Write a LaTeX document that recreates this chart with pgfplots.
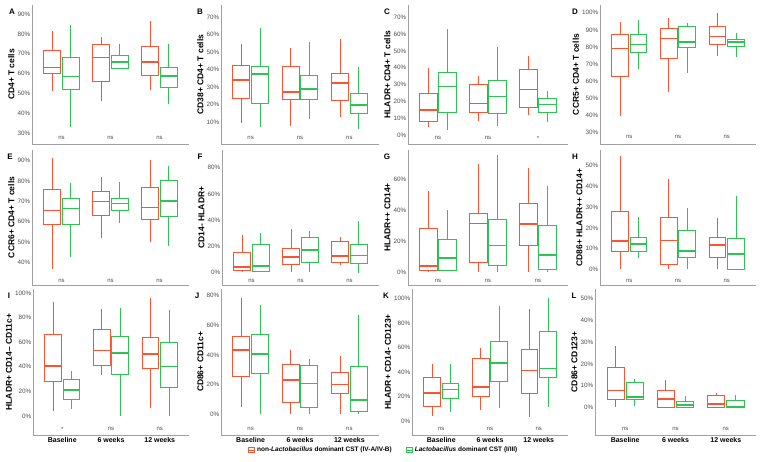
\documentclass[border=0pt]{standalone}
\usepackage{fontspec}
\setmainfont{Liberation Sans}
\usepackage{pgfplots}
\usepackage{pgfplotstable}
\pgfplotsset{compat=1.18}
\usepgfplotslibrary{statistics}

\definecolor{cRed}{RGB}{250,84,50}
\definecolor{cGreen}{RGB}{46,196,84}
\definecolor{tickgray}{RGB}{77,77,77}
\definecolor{linegray}{RGB}{160,160,160}

% rows: baseline red, baseline green, 6wk red, 6wk green, 12wk red, 12wk green
\pgfplotstableread{
lw lq med uq uw
51.2 60.3 63.0 71.7 81.5
33.2 52.0 58.5 68.2 84.5
46.2 56.0 68.2 74.8 78.5
62.5 62.5 66.0 69.0 74.7
51.7 59.3 66.0 73.8 86.3
44.8 53.3 58.7 63.2 75.0
}\tA
\pgfplotstableread{
lw lq med uq uw
9.2 23.4 34.1 42.5 54.5
7.3 20.7 37.5 41.7 63.9
7.9 23.0 27.2 41.7 52.2
11.5 23.2 28.9 36.6 55.9
12.7 22.6 32.2 38.1 57.8
6.0 15.0 19.7 26.2 41.3
}\tB
\pgfplotstableread{
lw lq med uq uw
4.9 8.3 14.8 24.8 40.0
2.9 13.3 28.7 37.3 63.3
8.5 13.3 18.8 30.3 35.1
5.5 12.9 22.8 32.5 52.1
11.9 16.2 27.1 38.7 47.0
7.5 13.5 18.2 21.6 26.0
}\tC
\pgfplotstableread{
lw lq med uq uw
39.9 62.9 79.0 87.2 94.8
67.1 76.9 81.5 87.6 95.7
53.5 73.6 85.0 90.7 96.7
65.0 79.8 82.9 92.0 94.2
74.7 81.5 86.2 92.0 99.6
74.3 80.6 82.9 84.6 87.9
}\tD
\pgfplotstableread{
lw lq med uq uw
36.9 58.8 65.5 75.9 91.1
42.9 58.5 66.6 71.4 78.9
52.3 63.2 69.9 74.8 81.8
59.6 65.7 68.9 71.5 79.4
50.3 61.2 67.0 76.8 90.3
48.0 62.4 70.2 80.2 87.2
}\tE
\pgfplotstableread{
lw lq med uq uw
0.3 1.5 4.1 15.5 28.7
0.3 1.3 5.3 21.6 29.9
0.8 6.3 11.9 18.3 33.3
0.3 7.6 17.3 26.9 31.7
5.8 7.9 12.7 23.9 26.9
0.0 7.4 13.2 21.6 39.4
}\tF
\pgfplotstableread{
lw lq med uq uw
0.9 1.1 4.1 28.2 52.5
0.9 1.5 9.2 21.5 40.2
0.4 6.2 31.4 38.1 69.7
0.4 4.5 17.4 33.8 75.7
0.0 17.6 31.0 44.3 67.1
0.4 1.9 11.2 30.1 55.5
}\tG
\pgfplotstableread{
lw lq med uq uw
0.2 8.5 13.7 27.8 54.8
5.3 8.5 12.1 15.4 25.4
0.0 2.1 13.8 24.9 43.4
0.0 5.6 8.8 18.5 29.4
0.0 5.8 11.6 15.3 24.6
0.0 0.0 7.4 14.8 35.5
}\tH
\pgfplotstableread{
lw lq med uq uw
4.0 28.0 40.7 66.6 92.5
5.7 13.2 21.3 29.4 36.4
33.2 41.0 53.1 70.0 87.0
0.0 33.7 51.2 65.0 87.6
6.7 38.5 50.4 63.9 95.7
0.0 23.2 40.2 60.1 86.5
}\tI
\pgfplotstableread{
lw lq med uq uw
4.9 25.1 43.2 52.2 78.2
0.0 27.3 40.8 54.0 73.7
0.0 7.6 23.1 33.4 43.5
0.0 4.7 20.8 32.7 37.4
0.0 13.7 19.9 28.0 39.2
0.4 1.6 9.6 32.5 66.6
}\tJ
\pgfplotstableread{
lw lq med uq uw
4.1 11.7 22.8 35.3 47.0
7.1 18.5 25.8 30.7 46.5
8.7 20.1 28.0 51.6 60.0
10.9 32.3 47.3 64.7 94.0
3.5 22.6 41.3 58.4 91.8
11.7 35.6 42.9 73.6 100.5
}\tK
\pgfplotstableread{
lw lq med uq uw
0.0 3.5 7.8 18.4 28.0
0.5 3.5 4.7 11.4 13.1
0.0 0.2 3.8 7.6 12.6
0.0 0.2 1.2 2.6 5.3
0.0 0.2 1.5 5.3 6.7
0.0 0.2 0.2 3.2 5.5
}\tL

\pgfplotsset{
  bxstyle/.style={forget plot, line width=0.9pt,
    boxplot/draw direction=y,
    boxplot/box extend=0.345, boxplot/whisker extend=0,
    boxplot/every median/.style={line width=1.6pt}},
}
% one box: table, row, position, colour
\newcommand{\bx}[4]{%
  \pgfplotstablegetelem{#2}{lw}\of{#1}\let\vlw\pgfplotsretval
  \pgfplotstablegetelem{#2}{lq}\of{#1}\let\vlq\pgfplotsretval
  \pgfplotstablegetelem{#2}{med}\of{#1}\let\vmed\pgfplotsretval
  \pgfplotstablegetelem{#2}{uq}\of{#1}\let\vuq\pgfplotsretval
  \pgfplotstablegetelem{#2}{uw}\of{#1}\let\vuw\pgfplotsretval
  \edef\doplot{\noexpand\addplot[bxstyle, draw=#4,
    boxplot prepared={draw position=#3, lower whisker=\vlw,
      lower quartile=\vlq, median=\vmed, upper quartile=\vuq,
      upper whisker=\vuw}] coordinates {};}%
  \doplot}
\newcommand{\sixboxes}[1]{%
  \bx{#1}{0}{0.81}{cRed}\bx{#1}{1}{1.19}{cGreen}%
  \bx{#1}{2}{1.81}{cRed}\bx{#1}{3}{2.19}{cGreen}%
  \bx{#1}{4}{2.81}{cRed}\bx{#1}{5}{3.19}{cGreen}}
\newcommand{\sigmarks}[4]{%
  \node[font=\fontsize{6}{6}\selectfont, text=tickgray] at (axis cs:1,#1) {#2};
  \node[font=\fontsize{6}{6}\selectfont, text=tickgray] at (axis cs:2,#1) {#3};
  \node[font=\fontsize{6}{6}\selectfont, text=tickgray] at (axis cs:3,#1) {#4};}

\pgfplotsset{
  panel/.style={
    scale only axis, anchor=south west, clip=false,
    xmin=0.4, xmax=3.6, xtick={1,2,3}, xticklabels={},
    axis lines=left, axis line style={-, draw=linegray, line width=0.7pt},
    major tick length=0pt,
    yticklabel style={font=\fontsize{6.3}{7}\selectfont, text=tickgray,
      inner sep=1.5pt},
    yticklabel={\pgfmathprintnumber{\tick}\%},
    /pgf/number format/fixed, /pgf/number format/precision=0,
    /pgf/number format/assume math mode=true,
    ylabel style={font=\bfseries\fontsize{8.5}{9}\selectfont, inner sep=1.5pt},
  },
  bottomrow/.style={xticklabels={Baseline,6 weeks,12 weeks},
    xticklabel style={font=\bfseries\fontsize{7}{8}\selectfont, text=black,
      inner sep=2pt}},
}

\begin{document}
\begin{tikzpicture}
\useasboundingbox (0,0) rectangle (761pt,462pt);

% ---- row 1
\begin{axis}[panel, at={(32pt,318pt)}, width=157pt, height=139pt,
  ymin=24.65, ymax=94.5, ytick={30,40,...,90}, ylabel={CD4+ T cells}]
\sixboxes{\tA}
\sigmarks{27.6}{ns}{ns}{ns}
\end{axis}
\begin{axis}[panel, at={(221pt,318pt)}, width=158pt, height=139pt,
  ymin=-2.6, ymax=77.1, ytick={10,20,...,70}, ylabel={CD38+ CD4+ T cells}]
\sixboxes{\tB}
\sigmarks{0.6}{ns}{ns}{ns}
\end{axis}
\begin{axis}[panel, at={(408pt,318pt)}, width=160pt, height=139pt,
  ymin=-5.4, ymax=77.3, ytick={0,10,...,70}, ylabel={HLADR+ CD4+ T cells}]
\sixboxes{\tC}
\sigmarks{-2}{ns}{ns}{*}
\end{axis}
\begin{axis}[panel, at={(600pt,318pt)}, width=156pt, height=139pt,
  ymin=23.4, ymax=104.5, ytick={30,40,...,100}, ylabel={CCR5+ CD4+ T cells}]
\sixboxes{\tD}
\sigmarks{27.3}{ns}{ns}{ns}
\end{axis}

% ---- row 2
\begin{axis}[panel, at={(32pt,177pt)}, width=157pt, height=135pt,
  ymin=29.05, ymax=95.2, ytick={40,50,...,90}, ylabel={CCR6+ CD4+ T cells}]
\sixboxes{\tE}
\sigmarks{31}{ns}{ns}{ns}
\end{axis}
\begin{axis}[panel, at={(222pt,177pt)}, width=157pt, height=135pt,
  ymin=-9.4, ymax=93.5, ytick={0,20,...,80}, ylabel={CD14- HLADR+}]
\sixboxes{\tF}
\sigmarks{-6.3}{ns}{ns}{ns}
\end{axis}
\begin{axis}[panel, at={(408pt,177pt)}, width=160pt, height=135pt,
  ymin=-8.2, ymax=78.9, ytick={0,20,...,60}, ylabel={HLADR++ CD14+}]
\sixboxes{\tG}
\sigmarks{-5.6}{ns}{ns}{ns}
\end{axis}
\begin{axis}[panel, at={(600pt,177pt)}, width=156pt, height=135pt,
  ymin=-7.6, ymax=57.6, ytick={0,10,...,50}, ylabel={CD86+ HLADR++ CD14+}]
\sixboxes{\tH}
\sigmarks{-5.6}{ns}{ns}{ns}
\end{axis}

% ---- row 3
\begin{axis}[panel, bottomrow, at={(33pt,27pt)}, width=156pt, height=146pt,
  ymin=-15.4, ymax=103.2, ytick={0,20,...,100}, ylabel={HLADR+ CD14– CD11c+}]
\sixboxes{\tI}
\sigmarks{-10.5}{*}{ns}{ns}
\end{axis}
\begin{axis}[panel, bottomrow, at={(221pt,27pt)}, width=158pt, height=146pt,
  ymin=-14.1, ymax=84.5, ytick={0,20,...,80}, ylabel={CD86+ CD11c+},
  legend style={at={(axis description cs:1.03,-0.105)}, anchor=center,
    draw=none, fill=none, legend columns=2, inner sep=0pt,
    font=\bfseries\fontsize{6.5}{7}\selectfont,
    /tikz/every even column/.append style={column sep=12pt}},
  legend image code/.code={
    \draw[#1,line width=0.8pt,fill=white] (0pt,-2.5pt) rectangle (6pt,2.5pt);
    \draw[#1,line width=1pt] (0pt,0pt) -- (6pt,0pt);}]
\addlegendimage{draw=cRed}
\addlegendentry{non-\textit{Lactobacillus} dominant CST (IV-A/IV-B)}
\addlegendimage{draw=cGreen}
\addlegendentry{\textit{Lactobacillus} dominant CST (I/III)}
\sixboxes{\tJ}
\sigmarks{-10}{ns}{ns}{ns}
\end{axis}
\begin{axis}[panel, bottomrow, at={(412pt,27pt)}, width=156pt, height=146pt,
  ymin=-11.4, ymax=108, ytick={0,20,...,100}, ylabel={HLADR+ CD14- CD123+}]
\sixboxes{\tK}
\sigmarks{-6.5}{ns}{ns}{ns}
\end{axis}
\begin{axis}[panel, bottomrow, at={(595pt,27pt)}, width=161pt, height=146pt,
  ymin=-12.6, ymax=54.3, ytick={0,10,...,50}, ylabel={CD86+ CD123+}]
\sixboxes{\tL}
\sigmarks{-9.9}{ns}{ns}{ns}
\end{axis}

% panel letters
\begin{scope}[every node/.style={font=\bfseries\fontsize{8}{9}\selectfont}]
\node at (12pt,450pt) {A};
\node at (200pt,450pt) {B};
\node at (387pt,450pt) {C};
\node at (575pt,450pt) {D};
\node at (10pt,305pt) {E};
\node at (200pt,305pt) {F};
\node at (387pt,305pt) {G};
\node at (575pt,305pt) {H};
\node at (9pt,166pt) {I};
\node at (197pt,166pt) {J};
\node at (386pt,166pt) {K};
\node at (574pt,166pt) {L};
\end{scope}
\end{tikzpicture}
\end{document}
